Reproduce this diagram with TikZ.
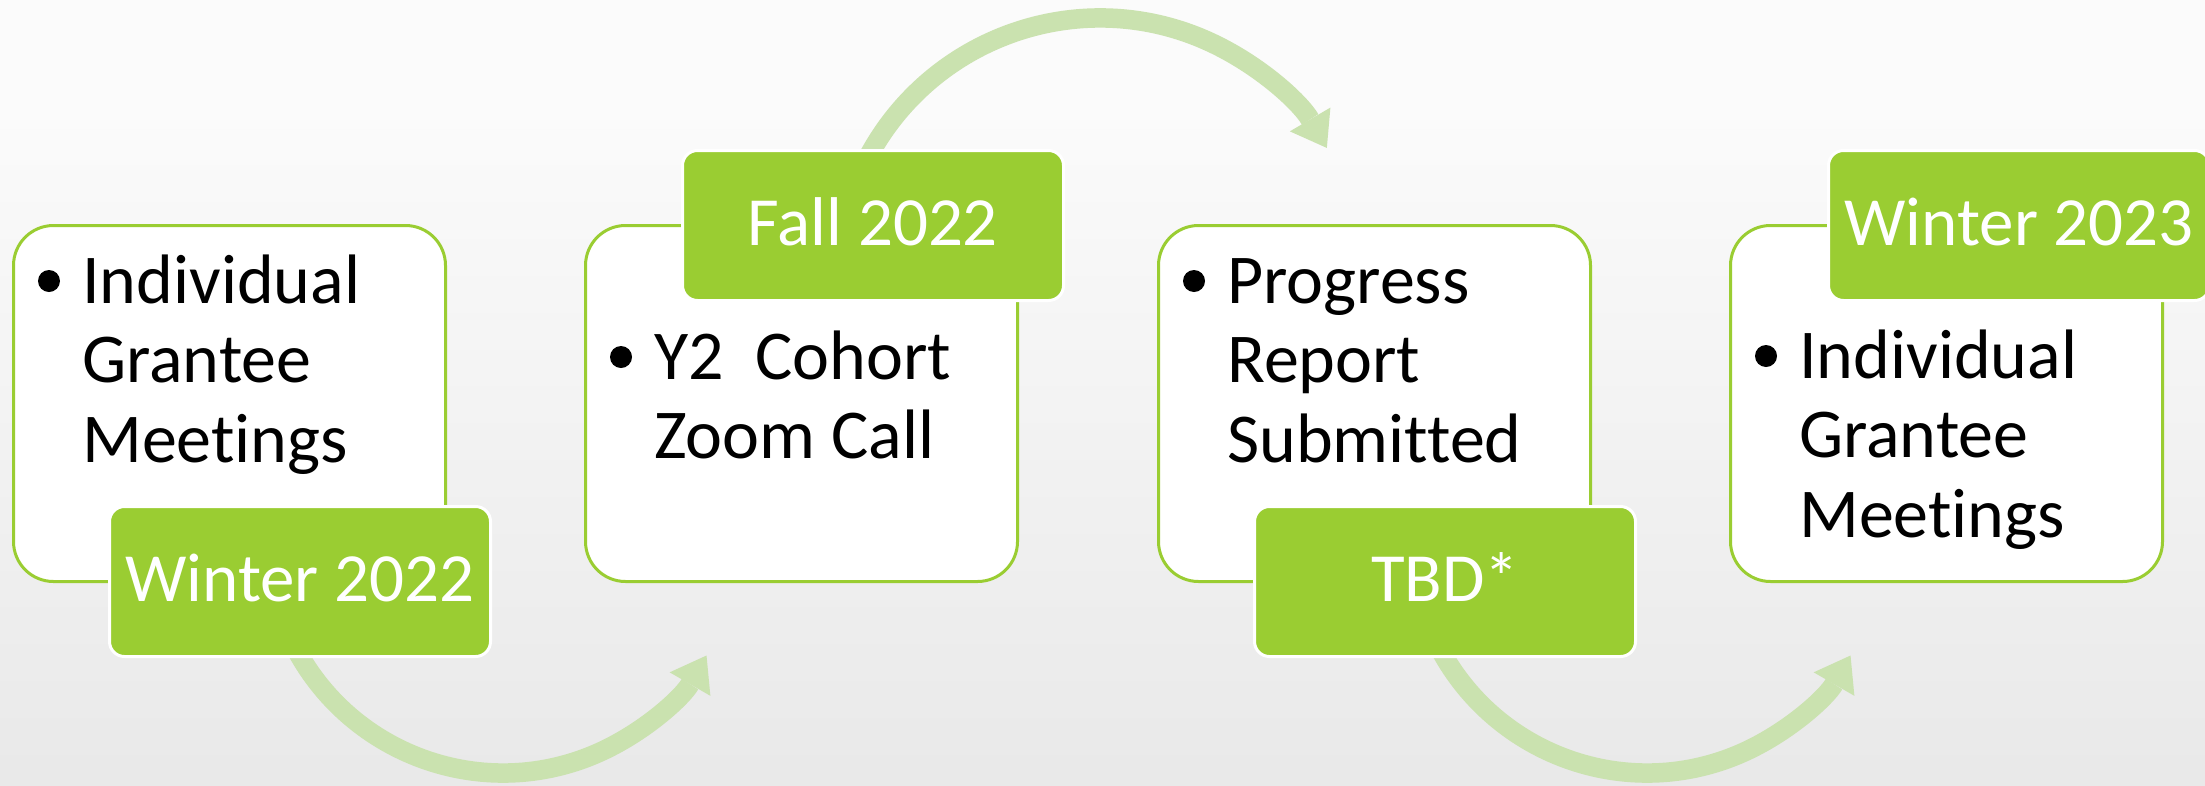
\documentclass[tikz,border=0pt]{standalone}
\usepackage{fontspec}
\setmainfont{Carlito}[Ligatures={NoCommon}]
\usetikzlibrary{arrows.meta}
\definecolor{boxgreen}{HTML}{9ACD32}
\definecolor{arrowgreen}{HTML}{CAE2AF}
\definecolor{bgtop}{HTML}{FBFBFB}
\definecolor{bgbot}{HTML}{DEDEDE}
\pgfdeclareverticalshading{bgshade}{100bp}{color(0bp)=(bgbot); color(68bp)=(bgtop); color(100bp)=(bgtop)}
\newcommand{\stacklines}[1]{\vtop{\baselineskip=79.5pt #1}}
\tikzset{
  whitebox/.style={draw=boxgreen, line width=3pt, fill=white, rounded corners=40pt,
    minimum width=432pt, minimum height=356pt, anchor=north west, inner sep=0pt},
  datebox/.style={fill=boxgreen, draw=white, line width=3pt, rounded corners=15pt,
    minimum width=381pt, minimum height=150pt, anchor=north west, inner sep=0pt,
    text=white, font=\fontsize{69}{80}\selectfont, text height=40pt, text depth=0pt},
  bodytext/.style={anchor=base west, inner sep=0pt, font=\fontsize{70}{79.5}\selectfont},
  flow/.style={draw=arrowgreen, line width=19.5pt,
    -{Triangle[width=47pt,length=33pt,line width=0pt]}},
}
\begin{document}
\begin{tikzpicture}[x=1pt,y=1pt]
\shade[shading=bgshade] (0,0) rectangle (2205,-785);
\useasboundingbox (0,0) rectangle (2205,-785);

% arc centres
\coordinate (c1) at (503,-538);
\coordinate (c2) at (1100,-281);
\coordinate (c3) at (1647,-538);

% connectors (behind the boxes)
\draw[flow] (c1) ++(205:235) arc[start angle=205, end angle=330, radius=235pt];
\draw[flow] (c2) ++(155:263) arc[start angle=155, end angle=30.4, radius=263pt];
\draw[flow] (c3) ++(205:235) arc[start angle=205, end angle=330, radius=235pt];

% white boxes
\node[whitebox] (w1) at (12,-224) {};
\node[whitebox] (w2) at (584,-224) {};
\node[whitebox] (w3) at (1157,-224) {};
\node[whitebox] (w4) at (1729,-224) {};

% texts
\node[bodytext] (t1) at (82,-303) {\stacklines{\hbox{Individual}\hbox{Grantee}\hbox{Meetings}}};
\node[bodytext] (t2) at (654,-379) {\stacklines{\hbox{Y2\ \ Cohort}\hbox{Zoom Call}}};
\node[bodytext] (t3) at (1227,-303) {\stacklines{\hbox{Progress}\hbox{Report}\hbox{Submitted}}};
\node[bodytext] (t4) at (1799,-378) {\stacklines{\hbox{Individual}\hbox{Grantee}\hbox{Meetings}}};

\foreach \t in {t1,t2,t3,t4}
  \fill ([xshift=-33pt,yshift=22pt]\t.base west) circle[radius=11pt];

% date boxes
\node[datebox] (g1) at (108,-505) {Winter 2022};
\node[datebox] (g2) at (681,-149) {Fall 2022};
\node[datebox] (g3) at (1253,-505) {TBD*};
\node[datebox] (g4) at (1827,-149) {Winter 2023};
\end{tikzpicture}
\end{document}
